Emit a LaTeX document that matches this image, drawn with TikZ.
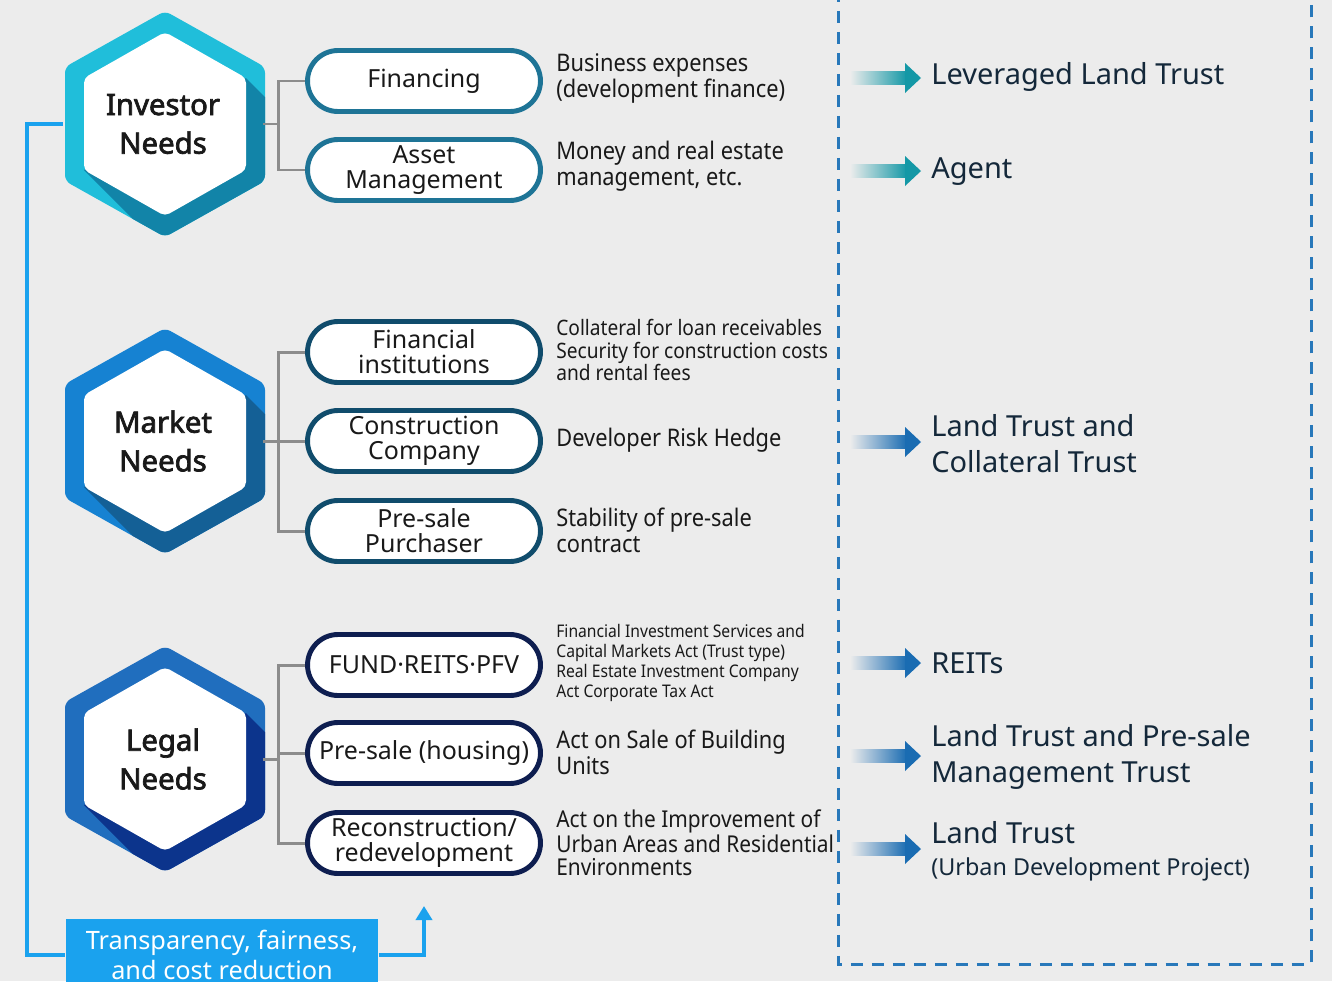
\documentclass[tikz,border=0pt]{standalone}
\usepackage{fontspec}
\setmainfont{Noto Sans}
\newfontfamily\narrowFont{Noto Sans}[FakeStretch=0.9]
\newfontfamily\heavyFont{Noto Sans}[FakeBold=2.4]
\usetikzlibrary{positioning, arrows.meta}
\definecolor{pageColor}{RGB}{236,236,236}
\definecolor{investorLight}{RGB}{32,190,218}
\definecolor{investorDark}{RGB}{18,132,168}
\definecolor{marketLight}{RGB}{22,130,210}
\definecolor{marketDark}{RGB}{20,96,150}
\definecolor{legalLight}{RGB}{32,110,190}
\definecolor{legalDark}{RGB}{12,52,140}
\definecolor{investorRim}{RGB}{30,116,150}
\definecolor{marketRim}{RGB}{16,76,108}
\definecolor{legalRim}{RGB}{14,30,80}
\definecolor{branchGray}{RGB}{140,140,140}
\definecolor{feedBlue}{RGB}{26,162,238}
\definecolor{dashBlue}{RGB}{40,120,186}
\definecolor{tealArrow}{RGB}{20,152,166}
\definecolor{blueArrow}{RGB}{26,108,178}
\definecolor{resultInk}{RGB}{20,40,58}
\tikzstyle{sheet} = [x = 0.02cm, y = -0.02cm]
\tikzstyle{hexLabel} = [minimum width = 4cm, minimum height = 2cm, inner sep = 0pt, align = center, text = black!90, font = \heavyFont\fontsize{16.7}{22}\selectfont]
\tikzstyle{pillBox} = [fill = white, line width = 2.8pt, rounded corners = .61cm, minimum width = 4.66cm, minimum height = 1.22cm, inner sep = 0pt, align = center, text = black!90, font = \fontsize{14.2}{14.2}\selectfont]
\tikzstyle{noteText} = [anchor = west, inner sep = 0pt, align = left, text = black!90]
\tikzstyle{resultText} = [anchor = west, inner sep = 0pt, align = left, text = resultInk, font = \fontsize{16.5}{20.4}\selectfont]
\tikzstyle{branchLine} = [color = branchGray, line width = 1.7pt]
\tikzstyle{feedLine} = [color = feedBlue, line width = 2.3pt]
\tikzstyle{goalBox} = [fill = feedBlue, text = white, minimum width = 6.26cm, minimum height = 1.44cm, inner sep = 0pt, align = center, font = \fontsize{14.4}{17}\selectfont]
\tikzstyle{dashFrame} = [color = dashBlue, line width = 1.7pt, dash pattern = on .24cm off .18cm]
\newcommand{\noteSize}{\narrowFont\fontsize{13.8}{14.8}\selectfont}
\newcommand{\needHex}[6]{
  \begin{scope}[shift = {(#2,#3)}]
    \begin{scope}
      \clip [rounded corners = .12cm] (0,-113) -- (100,-57) -- (100,57) -- (0,113) -- (-100,57) -- (-100,-57) -- cycle;
      \fill [#4] (-120,-130) rectangle (120,130);
      \fill [#5] (81,-46) -- (231,104) -- (69,196) -- (-81,46) -- cycle;
    \end{scope}
    \fill [white, rounded corners = .1cm] (0,-92) -- (81,-46) -- (81,46) -- (0,92) -- (-81,46) -- (-81,-46) -- cycle;
  \end{scope}
  \node [hexLabel] (#1) at (#2 - 2,#3) {#6};
}
\newcommand{\needPill}[4]{\node [pillBox, draw = #3] (#1) at (424,#2) {#4};}
\newcommand{\fadeArrow}[2]{
  \shade [left color = pageColor, right color = #2] (850,#1 - 6.5) rectangle (907,#1 + 6.5);
  \fill [#2] (905,#1 - 15) -- (921,#1) -- (905,#1 + 15) -- cycle;
}

\begin{document}
\begin{tikzpicture}[sheet]
  \useasboundingbox (0,0) rectangle (1332,981);
  \clip (0,0) rectangle (1332,981);
  \fill [pageColor] (0,0) rectangle (1332,981);

  \needHex{investor}{165}{124}{investorLight}{investorDark}{Investor\\Needs}
  \needHex{market}{165}{441}{marketLight}{marketDark}{Market\\Needs}
  \needHex{legal}{165}{759}{legalLight}{legalDark}{Legal\\Needs}

  \needPill{financing}{81}{investorRim}{Financing}
  \needPill{asset}{170}{investorRim}{Asset\\Management}
  \needPill{institutions}{352}{marketRim}{Financial\\institutions}
  \needPill{construction}{441}{marketRim}{Construction\\Company}
  \needPill{purchaser}{531}{marketRim}{Pre-sale\\Purchaser}
  \needPill{fund}{665}{legalRim}{FUND·REITS·PFV}
  \needPill{housing}{753}{legalRim}{Pre-sale (housing)}
  \needPill{redevelopment}{843}{legalRim}{Reconstruction/\\redevelopment}

  \draw [branchLine] (investor.east) -- ++(15,0) |- (financing.west);
  \draw [branchLine] (investor.east) -- ++(15,0) |- (asset.west);
  \draw [branchLine] (market.east) -- ++(15,0) |- (institutions.west);
  \draw [branchLine] (market.east) -- (construction.west);
  \draw [branchLine] (market.east) -- ++(15,0) |- (purchaser.west);
  \draw [branchLine] (legal.east) -- ++(15,0) |- (fund.west);
  \draw [branchLine] (legal.east) -- ++(15,0) |- (housing.west);
  \draw [branchLine] (legal.east) -- ++(15,0) |- (redevelopment.west);

  \node [noteText, font = \noteSize] (financingNote) at (556,78) {Business expenses\\(development finance)};
  \node [noteText, font = \noteSize] (assetNote) at (556,166) {Money and real estate\\management, etc.};
  \node [noteText, font = \narrowFont\fontsize{12.1}{13}\selectfont] (institutionsNote) at (556,350) {Collateral for loan receivables\\Security for construction costs\\and rental fees};
  \node [noteText, font = \noteSize] (constructionNote) at (556,440) {Developer Risk Hedge};
  \node [noteText, font = \noteSize] (purchaserNote) at (556,530) {Stability of pre-sale\\contract};
  \node [noteText, font = \narrowFont\fontsize{9.9}{11.3}\selectfont] (fundNote) at (556,663) {Financial Investment Services and\\Capital Markets Act (Trust type)\\Real Estate Investment Company\\Act Corporate Tax Act};
  \node [noteText, font = \noteSize] (housingNote) at (556,752) {Act on Sale of Building\\Units};
  \node [noteText, font = \narrowFont\fontsize{13.2}{13}\selectfont] (redevelopmentNote) at (556,843) {Act on the Improvement of\\Urban Areas and Residential\\Environments};

  \draw [dashFrame] (838,-10) -- (838,964) -- (1311,964) -- (1311,-10);

  \fadeArrow{78}{tealArrow}
  \fadeArrow{171}{tealArrow}
  \fadeArrow{442}{blueArrow}
  \fadeArrow{663}{blueArrow}
  \fadeArrow{756}{blueArrow}
  \fadeArrow{849}{blueArrow}
  \node [resultText] (leveraged) at (931,77) {Leveraged Land Trust};
  \node [resultText] (agent) at (931,172) {Agent};
  \node [resultText] (collateral) at (931,444) {Land Trust and\\Collateral Trust};
  \node [resultText] (reits) at (931,663) {REITs};
  \node [resultText] (presale) at (931,757) {Land Trust and Pre-sale\\Management Trust};
  \node [resultText] (urban) at (931,851) {Land Trust\\[-2pt]\fontsize{13.3}{16}\selectfont (Urban Development Project)};

  \node [goalBox] (goal) at (222,955) {Transparency, fairness,\\and cost reduction};
  \coordinate (feedTip) at (424,906);
  \draw [feedLine] (investor.west) -- ++(-36,0) |- (goal.west);
  \draw [feedLine, -{Triangle[width = .32cm, length = .28cm]}] (goal.east) -| (feedTip);
\end{tikzpicture}
\end{document}
